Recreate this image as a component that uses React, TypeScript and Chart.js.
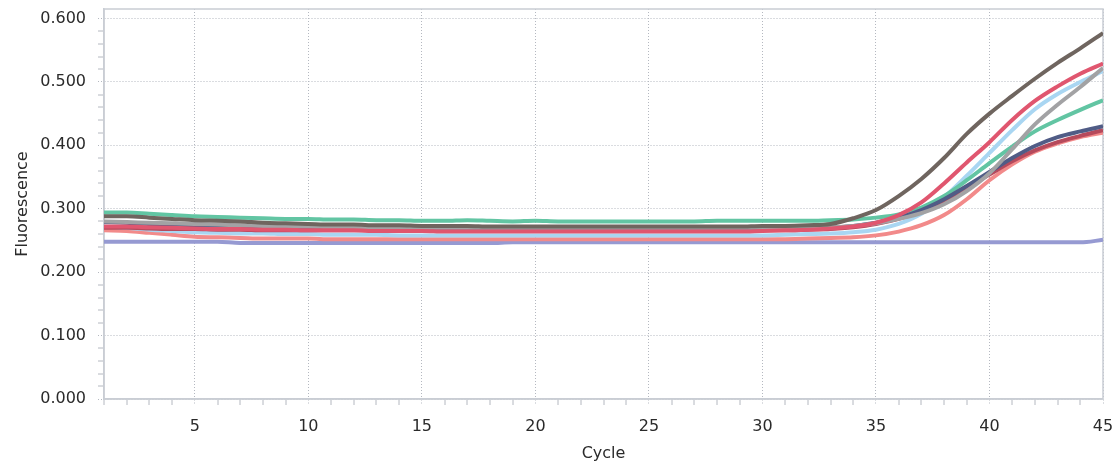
import React, { useEffect, useRef } from "react";
import { Chart, registerables } from "chart.js";

Chart.register(...registerables);

const cycles = [
  1, 2, 3, 4, 5, 6, 7, 8, 9, 10, 11, 12, 13, 14, 15, 16, 17, 18, 19, 20, 21, 22, 23,
  24, 25, 26, 27, 28, 29, 30, 31, 32, 33, 34, 35, 36, 37, 38, 39, 40, 41, 42, 43, 44, 45,
];

const yTickValues = [
  0, 0.02, 0.04, 0.06, 0.08, 0.1, 0.12, 0.14, 0.16, 0.18, 0.2, 0.22, 0.24, 0.26, 0.28,
  0.3, 0.32, 0.34, 0.36, 0.38, 0.4, 0.42, 0.44, 0.46, 0.48, 0.5, 0.52, 0.54, 0.56, 0.58, 0.6,
];

const brown = [
  0.288, 0.288, 0.286, 0.284, 0.282, 0.281, 0.28, 0.278, 0.277, 0.276,
  0.275, 0.275, 0.274, 0.274, 0.273, 0.273, 0.273, 0.272, 0.272, 0.272,
  0.272, 0.272, 0.272, 0.272, 0.272, 0.272, 0.272, 0.272, 0.272, 0.273,
  0.273, 0.274, 0.276, 0.285, 0.298, 0.32, 0.347, 0.38, 0.418, 0.45,
  0.478, 0.505, 0.53, 0.553, 0.577,
];

const green = [
  0.294, 0.294, 0.292, 0.29, 0.288, 0.287, 0.286, 0.285, 0.284, 0.284,
  0.283, 0.283, 0.282, 0.282, 0.281, 0.281, 0.282, 0.281, 0.28, 0.281,
  0.28, 0.28, 0.28, 0.28, 0.28, 0.28, 0.28, 0.281, 0.281, 0.281,
  0.281, 0.281, 0.282, 0.283, 0.286, 0.291, 0.302, 0.32, 0.345, 0.372,
  0.398, 0.422, 0.44, 0.456, 0.471,
];

const crimson = [
  0.272, 0.272, 0.271, 0.27, 0.269, 0.268, 0.268, 0.267, 0.267, 0.266,
  0.266, 0.266, 0.265, 0.265, 0.265, 0.264, 0.264, 0.264, 0.264, 0.264,
  0.264, 0.264, 0.264, 0.264, 0.264, 0.264, 0.264, 0.264, 0.264, 0.265,
  0.266, 0.267, 0.269, 0.272, 0.278, 0.29, 0.31, 0.34, 0.373, 0.405,
  0.44, 0.47, 0.493, 0.513, 0.529,
];

const lightBlue = [
  0.272, 0.27, 0.267, 0.265, 0.263, 0.262, 0.261, 0.261, 0.26, 0.26,
  0.259, 0.259, 0.259, 0.258, 0.258, 0.258, 0.258, 0.258, 0.258, 0.258,
  0.258, 0.258, 0.258, 0.258, 0.258, 0.258, 0.258, 0.258, 0.258, 0.258,
  0.259, 0.26, 0.261, 0.263, 0.267, 0.276, 0.292, 0.318, 0.352, 0.388,
  0.424, 0.457, 0.481, 0.5, 0.517,
];

const gray = [
  0.28, 0.279, 0.278, 0.277, 0.276, 0.275, 0.274, 0.273, 0.272, 0.272,
  0.271, 0.271, 0.27, 0.27, 0.27, 0.27, 0.27, 0.27, 0.27, 0.27,
  0.27, 0.27, 0.27, 0.27, 0.27, 0.27, 0.27, 0.27, 0.27, 0.27,
  0.27, 0.27, 0.271, 0.273, 0.277, 0.284, 0.293, 0.307, 0.328, 0.356,
  0.394, 0.433, 0.464, 0.492, 0.522,
];

const darkBlue = [
  0.279, 0.278, 0.276, 0.274, 0.273, 0.272, 0.271, 0.27, 0.27, 0.269,
  0.269, 0.269, 0.269, 0.268, 0.268, 0.268, 0.268, 0.268, 0.268, 0.268,
  0.268, 0.268, 0.268, 0.268, 0.268, 0.268, 0.268, 0.268, 0.268, 0.268,
  0.268, 0.269, 0.27, 0.273, 0.278, 0.286, 0.298, 0.315, 0.336, 0.358,
  0.38, 0.399, 0.413, 0.422, 0.43,
];

const darkRed = [
  0.27, 0.27, 0.269, 0.268, 0.268, 0.267, 0.267, 0.266, 0.266, 0.266,
  0.266, 0.266, 0.266, 0.266, 0.266, 0.266, 0.266, 0.266, 0.266, 0.266,
  0.266, 0.266, 0.266, 0.266, 0.266, 0.266, 0.266, 0.266, 0.266, 0.266,
  0.266, 0.267, 0.268, 0.271, 0.276, 0.284, 0.296, 0.313, 0.333, 0.354,
  0.375, 0.392, 0.405, 0.415, 0.424,
];

const salmon = [
  0.266, 0.265, 0.262, 0.259, 0.256, 0.255, 0.254, 0.253, 0.253, 0.253,
  0.252, 0.252, 0.252, 0.252, 0.252, 0.252, 0.252, 0.252, 0.252, 0.252,
  0.252, 0.252, 0.252, 0.252, 0.252, 0.252, 0.252, 0.252, 0.252, 0.252,
  0.252, 0.253, 0.254, 0.255, 0.258, 0.264, 0.274, 0.29, 0.315, 0.345,
  0.37, 0.39, 0.403, 0.413, 0.42,
];

const purpleBlue = [
  0.248, 0.248, 0.248, 0.248, 0.248, 0.248, 0.246, 0.246, 0.246, 0.246,
  0.246, 0.246, 0.246, 0.246, 0.246, 0.246, 0.246, 0.246, 0.247, 0.247,
  0.247, 0.247, 0.247, 0.247, 0.247, 0.247, 0.247, 0.247, 0.247, 0.247,
  0.247, 0.247, 0.247, 0.247, 0.247, 0.247, 0.247, 0.247, 0.247, 0.247,
  0.247, 0.247, 0.247, 0.247, 0.251,
];

// first entry is drawn on top
const seriesList = [
  { name: "brown", values: brown, color: "#6f655f" },
  { name: "crimson", values: crimson, color: "#e0566f" },
  { name: "gray", values: gray, color: "#a2a2a4" },
  { name: "darkBlue", values: darkBlue, color: "#505c86" },
  { name: "darkRed", values: darkRed, color: "#b64a5c" },
  { name: "green", values: green, color: "#62c5a3" },
  { name: "lightBlue", values: lightBlue, color: "#a9d6f2" },
  { name: "salmon", values: salmon, color: "#f28a8a" },
  { name: "purpleBlue", values: purpleBlue, color: "#969ad2" },
];

const FONT = { family: "'DejaVu Sans', Verdana, sans-serif", size: 16 };
const TEXT = "#2a2a2a";
const FRAME = "#c9cdd4";
const GRID = "#b4b8c0";

const isMajorY = (v: number) => Math.abs(v * 10 - Math.round(v * 10)) < 1e-6;
const isMajorX = (v: number) => Math.abs(v / 5 - Math.round(v / 5)) < 1e-6;

const framePlugin = {
  id: "frame",
  beforeDatasetsDraw(chart: any) {
    const { ctx, chartArea } = chart;
    const { left, top, right, bottom } = chartArea;
    ctx.save();
    ctx.strokeStyle = FRAME;
    ctx.lineWidth = 1.5;
    ctx.strokeRect(left, top, right - left, bottom - top);
    ctx.restore();
  },
};

export default function App() {
  const canvasRef = useRef<HTMLCanvasElement | null>(null);

  useEffect(() => {
    if (!canvasRef.current) return;
    const chart = new Chart(canvasRef.current, {
      type: "line",
      data: {
        datasets: seriesList.map((s) => ({
          label: s.name,
          data: s.values.map((v, i) => ({ x: cycles[i], y: v })),
          borderColor: s.color,
          backgroundColor: s.color,
          borderWidth: 4,
          pointRadius: 0,
          fill: false,
          cubicInterpolationMode: "monotone" as const,
        })),
      },
      options: {
        responsive: false,
        animation: false,
        layout: { padding: { left: 0, right: 16, top: 9, bottom: 0 } },
        plugins: { legend: { display: false }, tooltip: { enabled: false } },
        scales: {
          x: {
            type: "linear",
            min: 1,
            max: 45,
            afterBuildTicks: (s: any) => {
              s.ticks = cycles.map((v) => ({ value: v }));
            },
            afterFit: (s: any) => {
              s.height = 64;
              s.paddingLeft = 0;
              s.paddingRight = 0;
            },
            ticks: {
              autoSkip: false,
              maxRotation: 0,
              padding: 12,
              color: TEXT,
              font: FONT,
              callback: (v: any) => (isMajorX(Number(v)) ? String(v) : ""),
            },
            grid: {
              color: (c: any) => (c.tick && isMajorX(c.tick.value) ? GRID : "rgba(255,255,255,0)"),
              lineWidth: (c: any) => (c.tick && isMajorX(c.tick.value) ? 1 : 0),
              tickLength: 6,
              tickColor: GRID,
              tickWidth: 1,
              tickBorderDash: (c: any) => (c.tick && isMajorX(c.tick.value) ? [1, 2] : []),
            },
            border: { color: FRAME, width: 1.5, dash: [1, 2] },
            title: {
              display: true,
              text: "Cycle",
              color: TEXT,
              font: FONT,
              padding: { top: 0, bottom: 0 },
            },
          },
          y: {
            type: "linear",
            min: 0,
            max: 0.615,
            afterBuildTicks: (s: any) => {
              s.ticks = yTickValues.map((v) => ({ value: v }));
            },
            afterFit: (s: any) => {
              s.width = 104;
              s.paddingTop = 0;
              s.paddingBottom = 0;
            },
            ticks: {
              autoSkip: false,
              padding: 12,
              color: TEXT,
              font: FONT,
              callback: (v: any) => (isMajorY(Number(v)) ? Number(v).toFixed(3) : ""),
            },
            grid: {
              color: (c: any) => (c.tick && isMajorY(c.tick.value) ? GRID : "rgba(255,255,255,0)"),
              lineWidth: (c: any) => (c.tick && isMajorY(c.tick.value) ? 1 : 0),
              tickLength: 6,
              tickColor: GRID,
              tickWidth: 1,
              tickBorderDash: (c: any) => (c.tick && isMajorY(c.tick.value) ? [1, 2] : []),
            },
            border: { color: FRAME, width: 1.5, dash: [1, 2] },
            title: {
              display: true,
              text: "Fluorescence",
              color: TEXT,
              font: FONT,
              padding: { top: 13, bottom: 0 },
            },
          },
        },
      },
      plugins: [framePlugin],
    });
    return () => chart.destroy();
  }, []);

  return (
    <div style={{ position: "fixed", left: 0, top: 0, width: 1119, height: 463, background: "#fff" }}>
      <canvas ref={canvasRef} width={1119} height={463} style={{ width: 1119, height: 463 }} />
    </div>
  );
}
